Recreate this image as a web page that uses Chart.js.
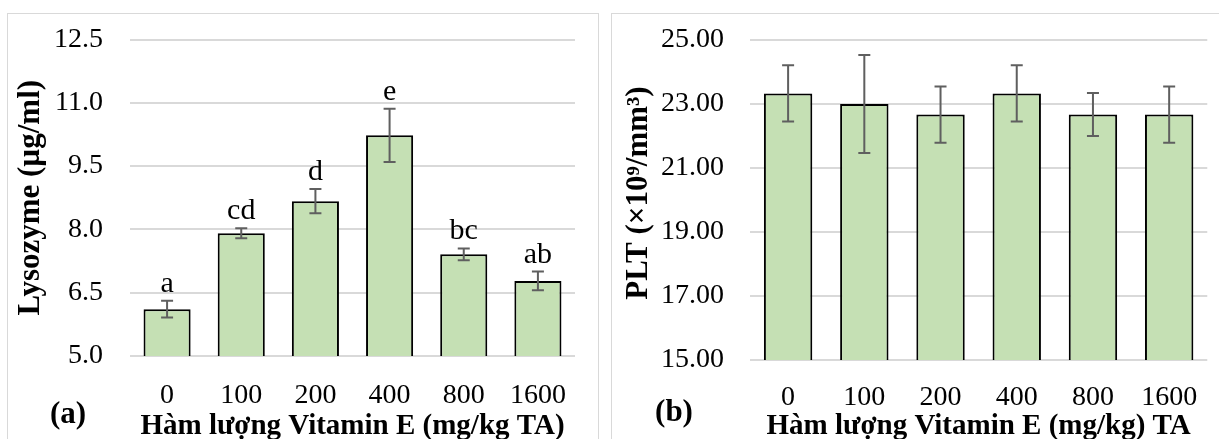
<!DOCTYPE html>
<html>
<head>
<meta charset="utf-8">
<script src="https://cdn.jsdelivr.net/npm/chart.js@4"></script>
<style>
  html, body { margin:0; padding:0; background:#fff; overflow:hidden; width:1219px; height:439px; }
  .panel { position:absolute; border:1px solid #d9d9d9; box-sizing:border-box; }
  canvas { position:absolute; }
</style>
</head>
<body>

<div class="panel" style="left:7px; top:13px; width:592px; height:460px;"></div>
<div class="panel" style="left:611px; top:13px; width:640px; height:460px;"></div>

<canvas id="chartA" width="589" height="427" style="left:8px; top:14px;"></canvas>
<canvas id="chartB" width="607" height="427" style="left:612px; top:14px;"></canvas>

<script>
// data
const doses = ["0", "100", "200", "400", "800", "1600"];

const lysozymeMeans = [6.11, 7.91, 8.67, 10.23, 7.41, 6.78];
const lysozymeErrors = [0.20, 0.12, 0.29, 0.63, 0.14, 0.22];
const lysozymeLetters = ["a", "cd", "d", "e", "bc", "ab"];
const lysozymeTicks = [5.0, 6.5, 8.0, 9.5, 11.0, 12.5];

const pltMeans = [23.33, 23.00, 22.67, 23.33, 22.67, 22.67];
const pltErrors = [0.88, 1.53, 0.88, 0.88, 0.67, 0.88];
const pltTicks = [15, 17, 19, 21, 23, 25];

const SERIF = "'Liberation Serif', 'Times New Roman', serif";


const errorBarPlugin = {

    id: "errorBars",

    afterDatasetsDraw(chart, args, opts) {

        const ctx = chart.ctx;
        const yScale = chart.scales.y;
        const area = chart.chartArea;
        const values = chart.data.datasets[0].data;
        const bars = chart.getDatasetMeta(0).data;

        ctx.save();

        bars.forEach((bar, i) => {

            const top = yScale.getPixelForValue(values[i] + opts.errors[i]);
            const bottom = yScale.getPixelForValue(values[i] - opts.errors[i]);

            ctx.strokeStyle = "#5f5f5f";
            ctx.lineWidth = 2;
            ctx.beginPath();
            ctx.moveTo(bar.x, top);
            ctx.lineTo(bar.x, bottom);
            ctx.moveTo(bar.x - 6, top);
            ctx.lineTo(bar.x + 6, top);
            ctx.moveTo(bar.x - 6, bottom);
            ctx.lineTo(bar.x + 6, bottom);
            ctx.stroke();

            if (opts.letters) {
                ctx.fillStyle = "#000";
                ctx.font = "30px " + SERIF;
                ctx.textAlign = "center";
                ctx.textBaseline = "alphabetic";
                ctx.fillText(opts.letters[i], bar.x, top - 9);
            }

        });

        ctx.fillStyle = "#000";
        ctx.textAlign = "center";
        ctx.textBaseline = "middle";

        // y axis title, rotated
        ctx.save();
        ctx.translate(opts.yTitleX, (area.top + area.bottom) / 2 + opts.yTitleShift);
        ctx.rotate(-Math.PI / 2);
        ctx.font = "bold 31px " + SERIF;
        ctx.fillText(opts.yTitle, 0, 0);
        ctx.restore();

        // panel tag, (a) / (b)
        ctx.font = "bold 31px " + SERIF;
        ctx.fillText(opts.tag, opts.tagX, opts.tagY);

        ctx.restore();

    }

};


function renderPanel(canvas, cfg) {

    new Chart(

        canvas,

        {

            type: "bar",

            data: {

                labels: doses,

                datasets: [
                    {
                        data: cfg.values,
                        backgroundColor: "#c5e0b4",
                        borderColor: "#000",
                        borderWidth: 2,
                        categoryPercentage: 1,
                        barPercentage: 0.635
                    }
                ]

            },

            options: {

                responsive: false,
                animation: false,

                layout: {
                    padding: { top: cfg.padTop, right: cfg.padRight, left: 0, bottom: 0 }
                },

                plugins: {
                    legend: { display: false },
                    tooltip: { enabled: false },
                    errorBars: {
                        errors: cfg.errors,
                        letters: cfg.letters,
                        tag: cfg.tag,
                        tagX: cfg.tagX,
                        tagY: cfg.tagY,
                        yTitle: cfg.yTitle,
                        yTitleX: cfg.yTitleX,
                        yTitleShift: cfg.yTitleShift
                    }
                },

                scales: {

                    x: {
                        grid: { display: false, drawTicks: false },
                        border: { display: false },
                        ticks: {
                            color: "#000",
                            font: { family: SERIF, size: 28 },
                            padding: cfg.xTickPad,
                            autoSkip: false,
                            maxRotation: 0
                        },
                        title: {
                            display: true,
                            text: cfg.xTitle,
                            color: "#000",
                            font: { family: SERIF, size: 29, weight: "bold", lineHeight: 1 },
                            padding: { top: 0, bottom: 0 }
                        },
                        afterFit: s => { s.height = cfg.xHeight; }
                    },

                    y: {
                        min: cfg.ticks[0],
                        max: cfg.ticks[cfg.ticks.length - 1],
                        afterBuildTicks: s => { s.ticks = cfg.ticks.map(v => ({ value: v })); },
                        grid: { color: "#d9d9d9", lineWidth: 2, drawTicks: false },
                        border: { display: false },
                        ticks: {
                            color: "#000",
                            font: { family: SERIF, size: 28 },
                            padding: cfg.yTickPad,
                            callback: v => Number(v).toFixed(cfg.decimals)
                        },
                        afterFit: s => {
                            s.width = cfg.yWidth;
                            // the tick padding would otherwise push the plot top down
                            s.paddingTop = 0;
                            s.paddingBottom = 0;
                        }
                    }

                }

            },

            plugins: [errorBarPlugin]

        }

    );

}


renderPanel(
    document.getElementById("chartA"),
    {
        values: lysozymeMeans,
        errors: lysozymeErrors,
        letters: lysozymeLetters,
        ticks: lysozymeTicks,
        decimals: 1,
        yTitle: "Lysozyme (µg/ml)",
        xTitle: "Hàm lượng Vitamin E (mg/kg TA)",
        tag: "(a)",
        tagX: 60,
        tagY: 401,
        yTitleX: 23,
        yTitleShift: 0,
        padTop: 25.5,
        padRight: 22,
        yWidth: 122,
        xHeight: 85,
        yTickPad: 27,
        xTickPad: 23
    }
);

renderPanel(
    document.getElementById("chartB"),
    {
        values: pltMeans,
        errors: pltErrors,
        letters: null,
        ticks: pltTicks,
        decimals: 2,
        yTitle: "PLT (×10⁹/mm³)",
        xTitle: "Hàm lượng Vitamin E (mg/kg) TA",
        tag: "(b)",
        tagX: 62,
        tagY: 399,
        yTitleX: 27,
        yTitleShift: -7,
        padTop: 26,
        padRight: 10,
        yWidth: 138,
        xHeight: 81,
        yTickPad: 26,
        xTickPad: 21
    }
);
</script>
</body>
</html>
